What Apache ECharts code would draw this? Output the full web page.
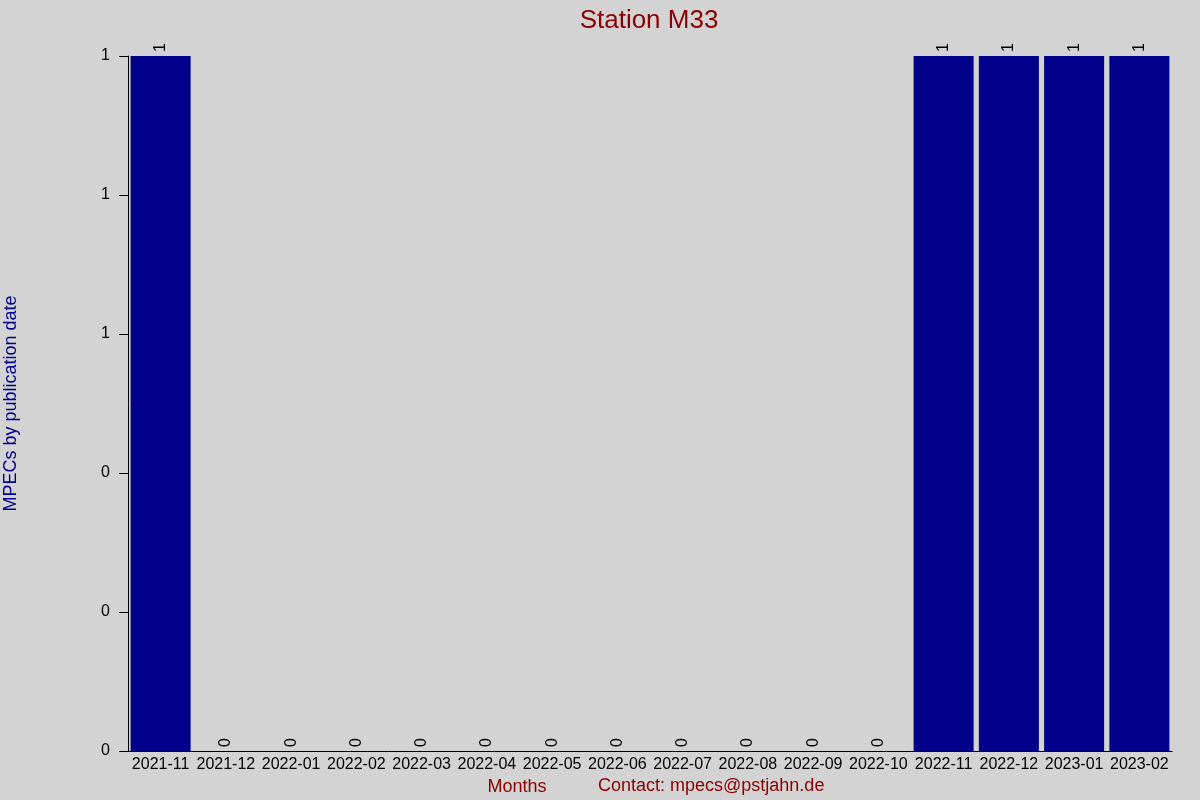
<!DOCTYPE html>
<html><head><meta charset="utf-8">
<script src="https://cdn.jsdelivr.net/npm/echarts@6/dist/echarts.min.js"></script>
<style>html,body{margin:0;padding:0;background:#d3d3d3}#c{width:1200px;height:800px}</style>
</head><body><div id="c"></div>
<script>
const months = ["2021-11","2021-12","2022-01","2022-02","2022-03","2022-04","2022-05","2022-06","2022-07","2022-08","2022-09","2022-10","2022-11","2022-12","2023-01","2023-02"];
const mpecs = [1,0,0,0,0,0,0,0,0,0,0,0,1,1,1,1];

const chart = echarts.init(document.getElementById('c'));
const F = 'Liberation Sans, Arial, sans-serif';
const option = {
  backgroundColor: '#d3d3d3',
  animation: false,
  title: {text: 'Station M33', left: 644, top: 3, textAlign: 'center',
    textStyle: {color: '#8b0000', fontSize: 26, fontWeight: 'normal', fontFamily: F}},
  grid: {left: 128, right: 28, top: 56, bottom: 49, outerBoundsMode: 'none', containLabel: false},
  xAxis: {type: 'category', data: months,
    axisLine: {lineStyle: {color: '#000'}}, axisTick: {show: false},
    axisLabel: {color: '#000', fontSize: 16, fontFamily: F, margin: 6, interval: 0},
    name: 'Months', nameLocation: 'middle', nameGap: 26,
    nameTextStyle: {color: '#8b0000', fontSize: 18, fontFamily: F, padding: [0, 0, 0, -266]}},
  yAxis: {type: 'value', min: 0, max: 1, interval: 0.2,
    axisLine: {show: true, lineStyle: {color: '#000'}},
    axisTick: {show: true, length: 9, lineStyle: {color: '#000'}},
    splitLine: {show: false},
    axisLabel: {color: '#000', fontSize: 16, fontFamily: F, margin: 18, formatter: v => String(Math.round(v))},
    name: 'MPECs by publication date', nameLocation: 'middle', nameGap: 108, nameRotate: 90,
    nameTextStyle: {color: '#00008b', fontSize: 18, fontFamily: F}},
  graphic: [{type: 'text', left: 598, top: 777,
    style: {text: 'Contact: mpecs@pstjahn.de', fill: '#8b0000', font: '18px ' + F}}],
  series: [{type: 'bar', data: mpecs, barCategoryGap: '8%',
    itemStyle: {color: '#00008b'},
    label: {show: true, position: 'top', rotate: 90, distance: 4, color: '#000', fontSize: 16, fontFamily: F,
      align: 'left', verticalAlign: 'middle'}}]
};
chart.setOption(option);
</script></body></html>
